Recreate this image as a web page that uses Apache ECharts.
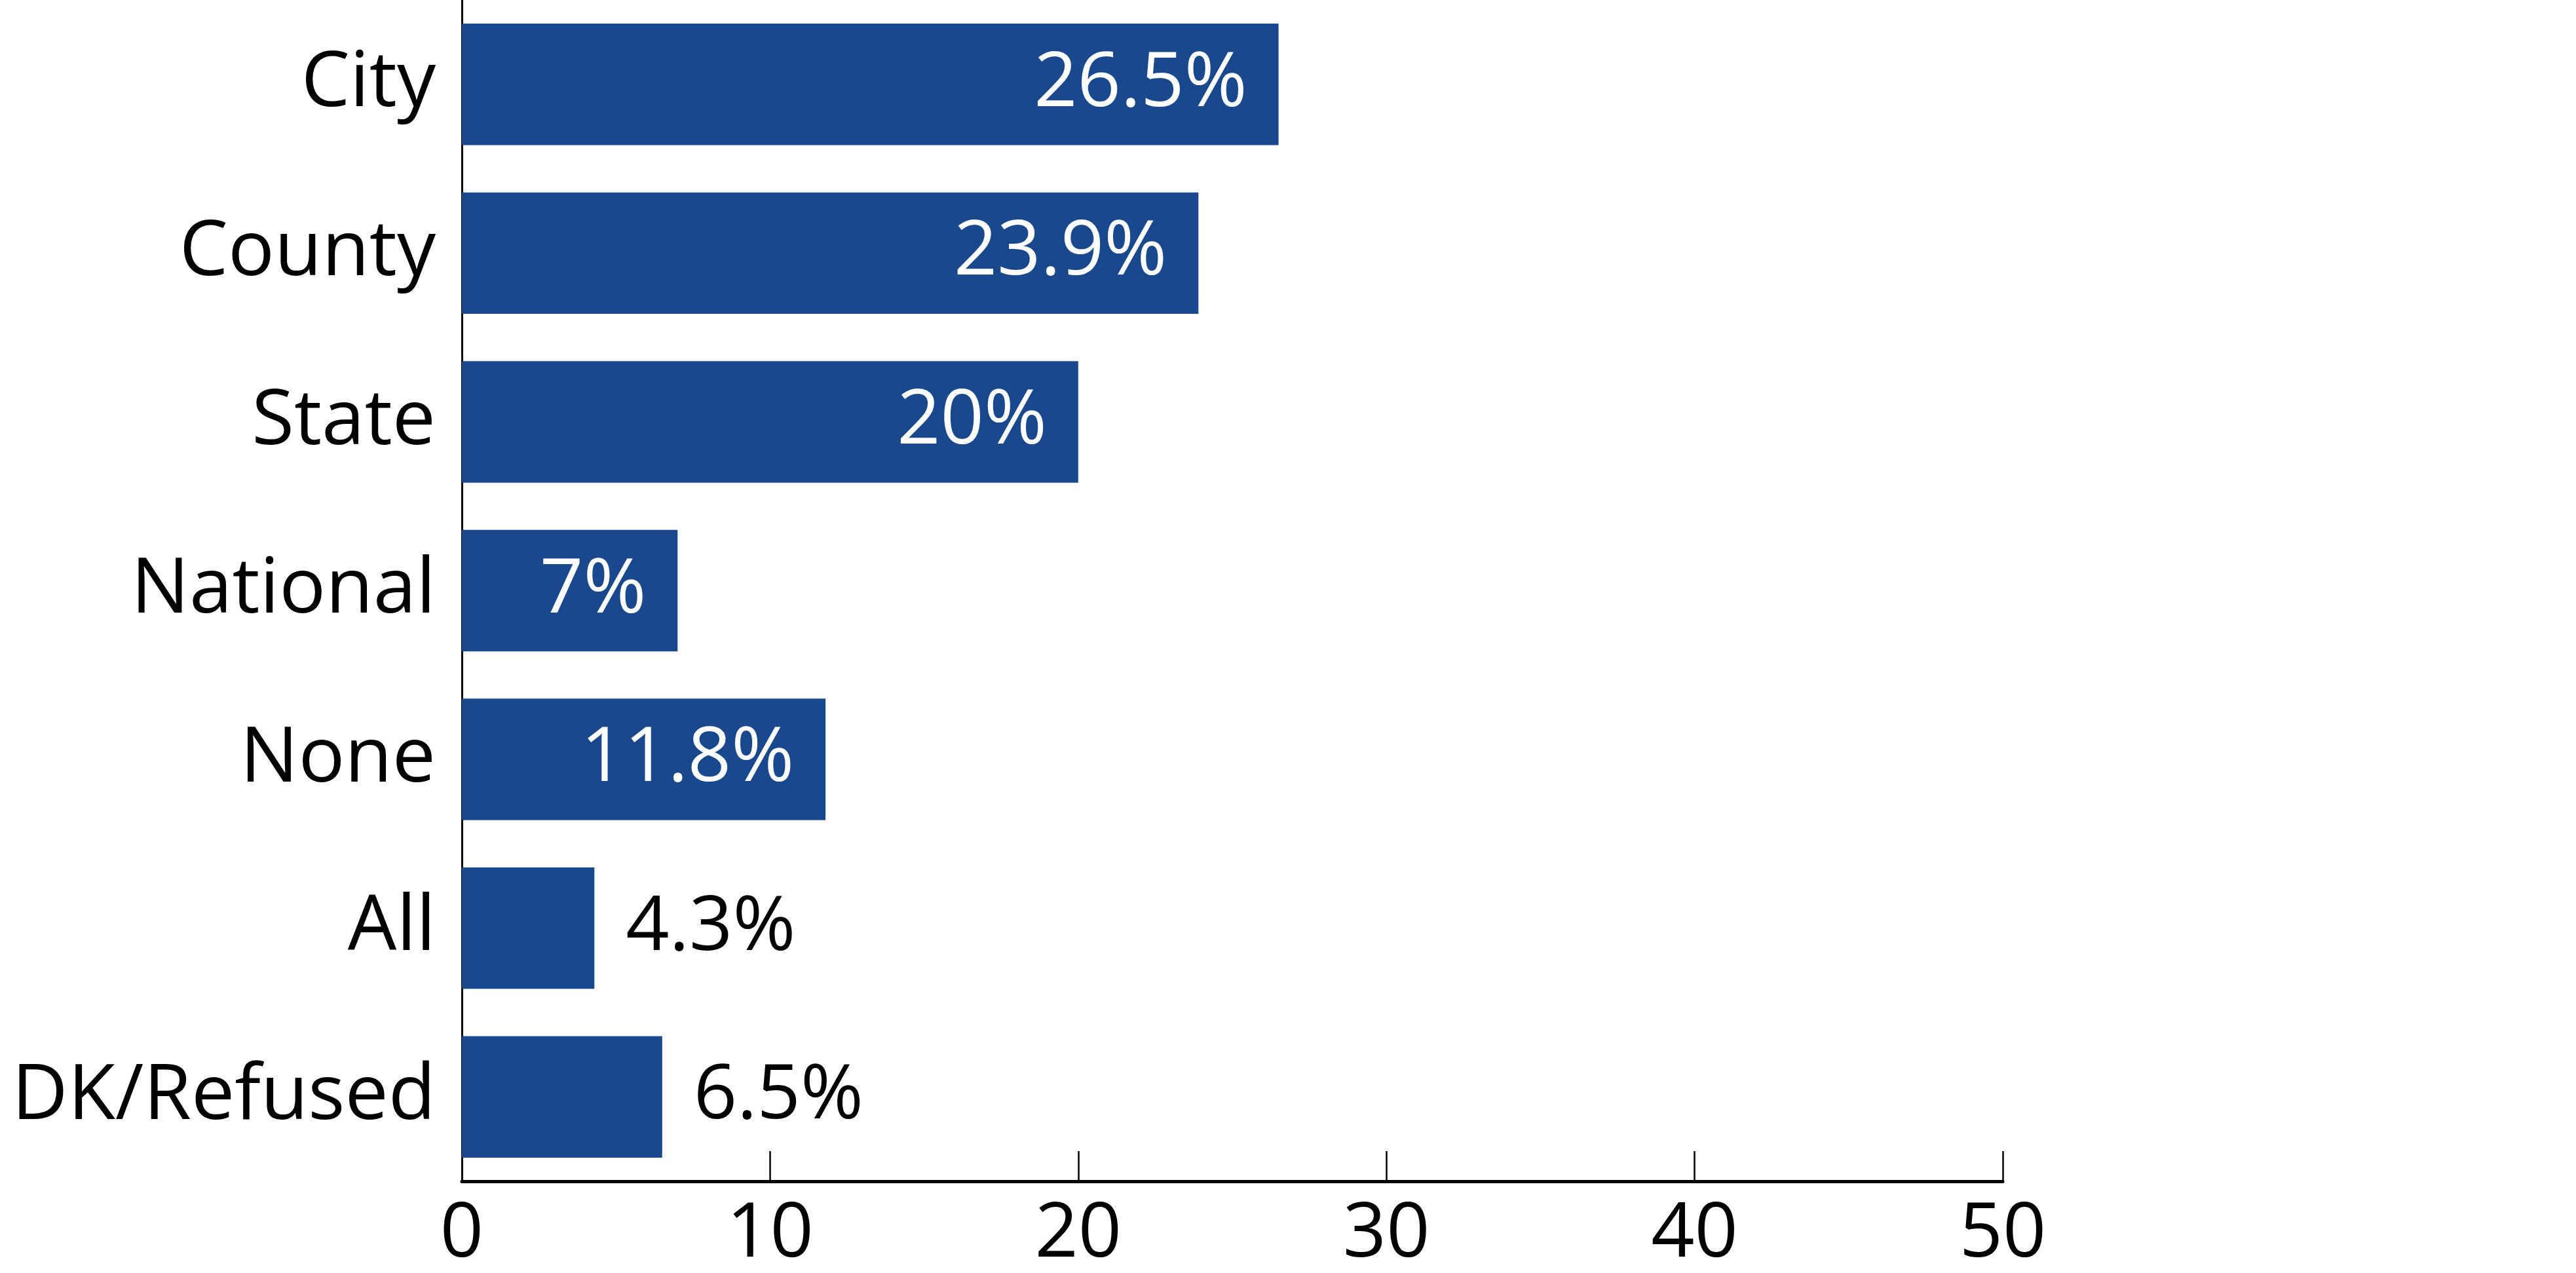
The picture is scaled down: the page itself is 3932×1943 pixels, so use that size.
<!DOCTYPE html>
<html>
<head>
<meta charset="utf-8">
<script src="https://cdn.jsdelivr.net/npm/echarts@6/dist/echarts.min.js"></script>
<style>
html,body{margin:0;padding:0;background:#fff;}
#chart{width:3932px;height:1943px;}
</style>
</head>
<body>
<div id="chart"></div>
<script>
const categories = ["City", "County", "State", "National", "None", "All", "DK/Refused"];
const values = [26.5, 23.9, 20, 7, 11.8, 4.3, 6.5];
const xTicks = [0, 10, 20, 30, 40, 50];

const FONT = "Open Sans";
const barColor = "#19488C";

const seriesData = values.map(v => {
  const inside = v >= 7;
  return {
    value: v,
    label: {
      position: inside ? "insideRight" : "right",
      color: inside ? "#ffffff" : "#000000",
      distance: 48
    }
  };
});

const chart = echarts.init(document.getElementById("chart"));
chart.setOption({
  animation: false,
  backgroundColor: "#ffffff",
  textStyle: { fontFamily: FONT },
  grid: { left: 705, right: 875, top: 0, bottom: 138, containLabel: false },
  xAxis: {
    type: "value",
    min: xTicks[0],
    max: xTicks[xTicks.length - 1],
    interval: 10,
    axisLine: { show: true, lineStyle: { color: "#000", width: 5 } },
    axisTick: { show: true, inside: true, length: 46, lineStyle: { color: "#000", width: 2.5 } },
    splitLine: { show: false },
    axisLabel: { fontSize: 116, color: "#000", fontFamily: FONT, margin: 24 }
  },
  yAxis: {
    type: "category",
    inverse: true,
    data: categories,
    axisLine: { show: true, lineStyle: { color: "#000", width: 3 } },
    axisTick: { show: false },
    axisLabel: { fontSize: 118, color: "#000", fontFamily: FONT, margin: 40, padding: [14, 0, 0, 0] }
  },
  series: [{
    type: "bar",
    data: seriesData,
    barCategoryGap: "28%",
    itemStyle: { color: barColor },
    label: {
      show: true,
      fontSize: 116,
      fontFamily: FONT,
      padding: [12, 0, 0, 0],
      formatter: p => p.value + "%"
    }
  }]
});
</script>
</body>
</html>
